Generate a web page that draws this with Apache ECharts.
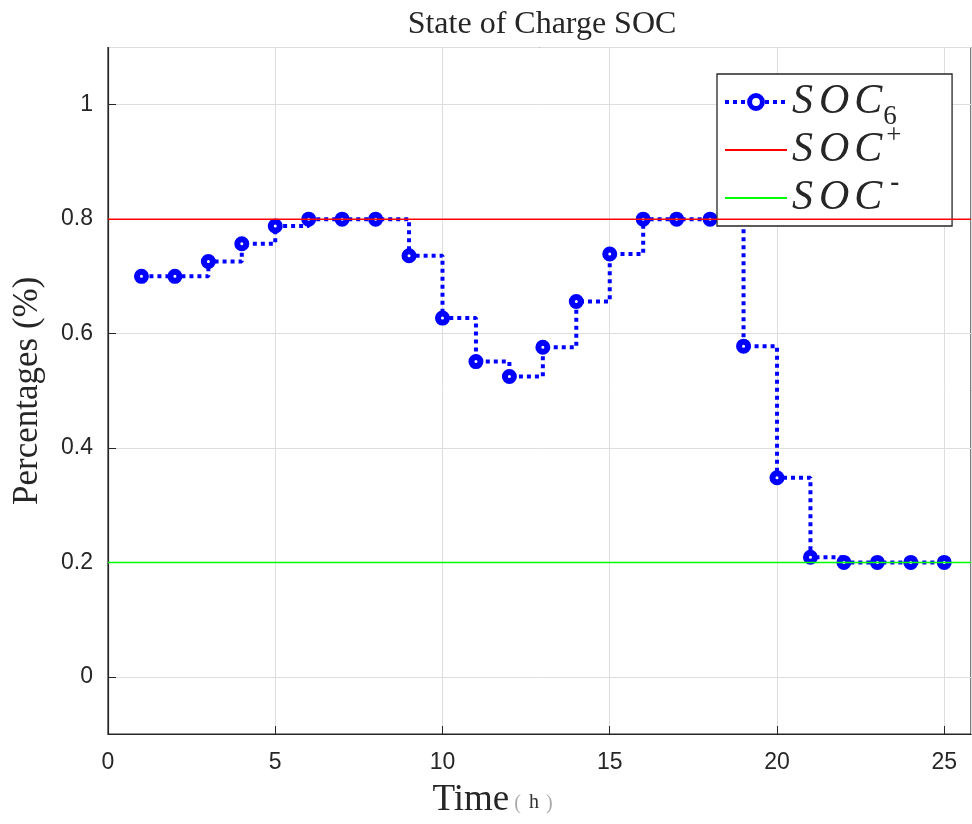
<!DOCTYPE html>
<html>
<head>
<meta charset="utf-8">
<script src="https://cdn.jsdelivr.net/npm/echarts@6/dist/echarts.min.js"></script>
<style>html,body{margin:0;padding:0;background:#fff}#c{width:972px;height:824px}</style>
</head>
<body>
<div id="c"></div>
<script>
const time = [1,2,3,4,5,6,7,8,9,10,11,12,13,14,15,16,17,18,19,20,21,22,23,24,25];
const soc6 = [0.700,0.700,0.726,0.757,0.788,0.800,0.800,0.800,0.736,0.627,0.551,0.525,0.576,0.656,0.739,0.800,0.800,0.800,0.578,0.348,0.209,0.200,0.200,0.200,0.200];
const boundX = [0, 25.8];
const socUpper = [0.8, 0.8];
const socLower = [0.2, 0.2];
const xTicks = [0,5,10,15,20,25];
const yTicks = [0,0.2,0.4,0.6,0.8,1];

const chart = echarts.init(document.getElementById('c'), null, {renderer:'canvas'});
const dark = '#262626';
const serif = '"Liberation Serif", "DejaVu Serif", serif';
const sans = '"Liberation Sans", Arial, sans-serif';
const iBase = {fontFamily:serif, fontStyle:'italic', fontSize:42, color:dark, verticalAlign:'middle', lineHeight:56};
const legendRich = {
  s:Object.assign({}, iBase, {padding:[0,6,0,0]}),
  o:Object.assign({}, iBase, {padding:[0,5,0,0]}),
  c:Object.assign({}, iBase),
  sub:{fontFamily:serif, fontSize:27, color:dark, verticalAlign:'bottom', padding:[0,0,0,1]},
  subx:{fontFamily:serif, fontSize:27, color:'rgba(0,0,0,0)', verticalAlign:'bottom'},
  supp:{fontFamily:serif, fontSize:27, color:dark, verticalAlign:'top', padding:[0,0,0,4]},
  supm:{fontFamily:serif, fontSize:27, fontWeight:'bold', color:dark, verticalAlign:'top', padding:[0,0,0,8]},
  supx:{fontFamily:serif, fontSize:27, color:'rgba(0,0,0,0)', verticalAlign:'top'}
};
const socText = '{s|S}{o|O}{c|C}';
chart.setOption({
  animation:false,
  backgroundColor:'#fff',
  title:{text:'State of Charge SOC', left:537, top:4, textAlign:'center',
    textStyle:{fontFamily:serif, fontWeight:'normal', fontSize:32, color:dark}},
  grid:{left:108, top:47.5, right:1, bottom:86.5, show:true, borderColor:dark, borderWidth:1.2, backgroundColor:'#fff'},
  legend:{
    orient:'vertical', left:717, top:74, itemWidth:62, itemHeight:16, itemGap:-8,
    backgroundColor:'#fff', borderColor:dark, borderWidth:1.3, borderRadius:0,
    padding:[0,37,0,6],
    data:[
      {name:'SOC6', itemStyle:{color:'#ffffff', borderColor:'#0000ff', borderWidth:5}, lineStyle:{width:4, type:[4,4], color:'#0000ff'}},
      {name:'SOC+', itemStyle:{opacity:0}},
      {name:'SOC-', itemStyle:{opacity:0}}
    ],
    formatter:function(n){
      if(n==='SOC6') return socText + '{sub|6}{supx|+}';
      if(n==='SOC+') return socText + '{supp|+}{subx|6}';
      return socText + '{supm|-}{subx|6}';
    },
    textStyle:{rich:legendRich, padding:[0,0,0,0]}
  },
  xAxis:{type:'value', min:boundX[0], max:boundX[1], interval:5,
    name:'{a|Time}{p|(}{h|h}{q|)}', nameLocation:'middle', nameGap:48,
    nameTextStyle:{rich:{
      a:{fontFamily:serif, fontSize:37, color:dark},
      p:{fontFamily:serif, fontSize:20, color:'#aaa', padding:[6,8,0,5]},
      h:{fontFamily:serif, fontSize:20, color:'#333', padding:[4,0,0,0]},
      q:{fontFamily:serif, fontSize:20, color:'#aaa', padding:[6,94,0,7]}
    }},
    axisLine:{show:true, onZero:false, lineStyle:{color:dark, width:1.2}},
    axisTick:{show:true, inside:true, length:8, lineStyle:{color:dark}},
    axisLabel:{fontFamily:sans, fontSize:23, color:dark, margin:17, showMaxLabel:false,
      formatter:function(v){return xTicks.indexOf(v)>=0? String(v):'';}},
    splitLine:{show:true, lineStyle:{color:'#dedede', width:1}}
  },
  yAxis:{type:'value', min:-0.1, max:1.1, splitNumber:6,
    name:'Percentages (%)', nameLocation:'middle', nameGap:63,
    nameTextStyle:{fontFamily:serif, fontSize:35, color:dark},
    axisLine:{show:true, onZero:false, lineStyle:{color:dark, width:1.2}},
    axisTick:{show:true, inside:true, length:8, lineStyle:{color:dark}},
    axisLabel:{fontFamily:sans, fontSize:23, color:dark, margin:15, showMinLabel:false, showMaxLabel:false,
      formatter:function(v){
        for(const t of yTicks){ if(Math.abs(t-v)<1e-6) return String(t); }
        return '';
      }},
    splitLine:{show:true, lineStyle:{color:'#dedede', width:1}}
  },
  series:[
    {name:'SOC6', type:'line', step:'end', data:time.map((t,i)=>[t,soc6[i]]),
      symbol:'circle', symbolSize:9, z:3,
      lineStyle:{color:'#0000ff', width:4, type:[4,4]},
      itemStyle:{color:'#ffffff', borderColor:'#0000ff', borderWidth:6}},
    {name:'SOC+', type:'line', data:boundX.map((x,i)=>[x,socUpper[i]]), symbol:'none', z:4,
      lineStyle:{color:'#ff0000', width:1.5}, itemStyle:{color:'#ff0000'}},
    {name:'SOC-', type:'line', data:boundX.map((x,i)=>[x,socLower[i]]), symbol:'none', z:4,
      lineStyle:{color:'#00ff00', width:1.5}, itemStyle:{color:'#00ff00'}}
  ]
});
</script>
</body>
</html>
